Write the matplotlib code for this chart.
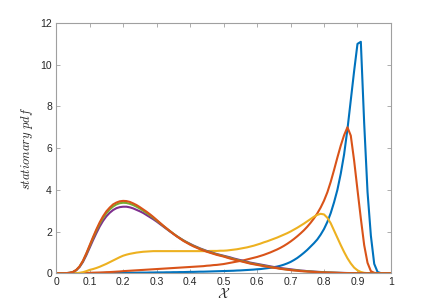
import numpy as np
import matplotlib.pyplot as plt

plt.rcParams['mathtext.fontset'] = 'cm'
plt.rcParams['font.family'] = ['Liberation Sans', 'DejaVu Sans']

# grid of the state variable
x = np.linspace(0, 1, 101)

pdf_blue = [
    0, 0, 0, 0, 0, 0.005, 0.005, 0.01, 0.01, 0.01, 0.01,
    0.01, 0.01, 0.01, 0.015, 0.015, 0.015, 0.02, 0.02, 0.02, 0.02,
    0.02, 0.025, 0.025, 0.025, 0.03, 0.03, 0.03, 0.035, 0.035, 0.04,
    0.04, 0.04, 0.045, 0.045, 0.05, 0.05, 0.055, 0.055, 0.06, 0.065,
    0.065, 0.07, 0.075, 0.075, 0.08, 0.085, 0.09, 0.095, 0.10, 0.105,
    0.11, 0.115, 0.12, 0.13, 0.135, 0.145, 0.155, 0.165, 0.175, 0.19,
    0.20, 0.22, 0.24, 0.26, 0.29, 0.32, 0.36, 0.41, 0.47, 0.54,
    0.63, 0.73, 0.85, 0.98, 1.12, 1.28, 1.44, 1.62, 1.85, 2.12,
    2.46, 2.88, 3.40, 4.00, 4.77, 5.70, 6.90, 8.30, 9.70, 11.0,
    11.1, 7.2, 3.9, 1.8, 0.45, 0.06, 0.005, 0, 0, 0,
]

pdf_orange = [
    0, 0, 0, 0, 0, 0.002, 0.005, 0.008, 0.012, 0.016, 0.02,
    0.025, 0.03, 0.035, 0.04, 0.05, 0.055, 0.065, 0.075, 0.085, 0.10,
    0.11, 0.12, 0.13, 0.14, 0.15, 0.16, 0.17, 0.18, 0.19, 0.20,
    0.21, 0.22, 0.23, 0.24, 0.25, 0.26, 0.27, 0.28, 0.29, 0.30,
    0.31, 0.32, 0.33, 0.34, 0.36, 0.37, 0.39, 0.40, 0.42, 0.44,
    0.47, 0.50, 0.53, 0.56, 0.59, 0.62, 0.66, 0.70, 0.74, 0.78,
    0.83, 0.88, 0.94, 1.00, 1.07, 1.14, 1.22, 1.31, 1.41, 1.52,
    1.64, 1.77, 1.91, 2.06, 2.23, 2.42, 2.63, 2.87, 3.15, 3.48,
    3.88, 4.38, 4.95, 5.55, 6.12, 6.62, 7.00, 6.60, 5.40, 4.00,
    2.63, 1.35, 0.50, 0.10, 0.02, 0.005, 0, 0, 0, 0,
]

pdf_yellow = [
    0, 0, 0, 0, 0, 0, 0.005, 0.02, 0.05, 0.10, 0.16,
    0.20, 0.25, 0.31, 0.38, 0.45, 0.53, 0.61, 0.69, 0.77, 0.84,
    0.89, 0.93, 0.96, 0.99, 1.01, 1.03, 1.04, 1.05, 1.06, 1.06,
    1.06, 1.06, 1.06, 1.06, 1.06, 1.06, 1.06, 1.06, 1.06, 1.06,
    1.06, 1.06, 1.06, 1.06, 1.06, 1.07, 1.07, 1.07, 1.08, 1.08,
    1.09, 1.11, 1.13, 1.15, 1.18, 1.21, 1.24, 1.28, 1.32, 1.37,
    1.42, 1.48, 1.53, 1.59, 1.65, 1.71, 1.78, 1.85, 1.92, 2.00,
    2.09, 2.18, 2.28, 2.38, 2.49, 2.60, 2.71, 2.80, 2.85, 2.82,
    2.66, 2.40, 2.05, 1.70, 1.35, 1.02, 0.72, 0.47, 0.27, 0.14,
    0.06, 0.02, 0.005, 0, 0, 0, 0, 0, 0, 0,
]

pdf_purple = [
    0, 0, 0, 0.005, 0.02, 0.055, 0.14, 0.30, 0.54, 0.86, 1.22,
    1.58, 1.92, 2.24, 2.51, 2.73, 2.90, 3.03, 3.12, 3.17, 3.19,
    3.19, 3.16, 3.11, 3.04, 2.97, 2.89, 2.79, 2.69, 2.59, 2.48,
    2.36, 2.24, 2.12, 2.00, 1.89, 1.78, 1.68, 1.58, 1.49, 1.41,
    1.33, 1.26, 1.19, 1.13, 1.07, 1.02, 0.97, 0.92, 0.88, 0.84,
    0.80, 0.76, 0.71, 0.67, 0.63, 0.59, 0.55, 0.51, 0.48, 0.45,
    0.42, 0.39, 0.36, 0.33, 0.30, 0.28, 0.25, 0.23, 0.21, 0.19,
    0.17, 0.15, 0.13, 0.12, 0.10, 0.09, 0.08, 0.07, 0.06, 0.05,
    0.04, 0.035, 0.03, 0.025, 0.02, 0.015, 0.01, 0.008, 0.006, 0.004,
    0.003, 0.002, 0.001, 0, 0, 0, 0, 0, 0, 0,
]

pdf_green = [
    0, 0, 0, 0.005, 0.02, 0.06, 0.15, 0.32, 0.58, 0.92, 1.30,
    1.68, 2.04, 2.37, 2.65, 2.88, 3.06, 3.20, 3.30, 3.36, 3.38,
    3.37, 3.33, 3.27, 3.19, 3.10, 3.00, 2.89, 2.78, 2.66, 2.53,
    2.40, 2.27, 2.14, 2.02, 1.90, 1.78, 1.67, 1.57, 1.48, 1.39,
    1.31, 1.24, 1.17, 1.11, 1.05, 1.00, 0.95, 0.90, 0.86, 0.82,
    0.77, 0.73, 0.68, 0.64, 0.60, 0.56, 0.52, 0.48, 0.45, 0.42,
    0.39, 0.36, 0.33, 0.30, 0.27, 0.25, 0.22, 0.20, 0.18, 0.16,
    0.15, 0.13, 0.12, 0.10, 0.09, 0.08, 0.07, 0.06, 0.05, 0.04,
    0.035, 0.03, 0.025, 0.02, 0.015, 0.01, 0.008, 0.006, 0.004, 0.003,
    0.002, 0.001, 0, 0, 0, 0, 0, 0, 0, 0,
]

pdf_orange2 = [
    0, 0, 0, 0.005, 0.02, 0.06, 0.16, 0.33, 0.60, 0.95, 1.34,
    1.73, 2.10, 2.44, 2.73, 2.97, 3.15, 3.30, 3.39, 3.45, 3.47,
    3.46, 3.42, 3.35, 3.27, 3.17, 3.06, 2.95, 2.83, 2.70, 2.56,
    2.42, 2.28, 2.15, 2.02, 1.89, 1.77, 1.66, 1.55, 1.46, 1.37,
    1.29, 1.22, 1.15, 1.09, 1.03, 0.98, 0.93, 0.88, 0.84, 0.80,
    0.75, 0.70, 0.66, 0.62, 0.58, 0.54, 0.50, 0.46, 0.43, 0.40,
    0.37, 0.34, 0.31, 0.28, 0.26, 0.24, 0.21, 0.19, 0.17, 0.15,
    0.13, 0.12, 0.10, 0.09, 0.08, 0.07, 0.06, 0.05, 0.04, 0.035,
    0.03, 0.025, 0.02, 0.015, 0.01, 0.008, 0.006, 0.004, 0.003, 0.002,
    0.001, 0, 0, 0, 0, 0, 0, 0, 0, 0,
]

series = [
    (pdf_blue, '#0072BD'),
    (pdf_orange, '#D95319'),
    (pdf_yellow, '#EDB120'),
    (pdf_purple, '#7E2F8E'),
    (pdf_green, '#77AC30'),
    (pdf_orange2, '#D95319'),
]

x_ticks = [0, 0.1, 0.2, 0.3, 0.4, 0.5, 0.6, 0.7, 0.8, 0.9, 1]
x_ticklabels = ['0', '0.1', '0.2', '0.3', '0.4', '0.5', '0.6', '0.7', '0.8', '0.9', '1']
y_ticks = [0, 2, 4, 6, 8, 10, 12]

fig = plt.figure(figsize=(4.32, 3.07), dpi=100)
ax = fig.add_axes([0.13, 0.11, 0.775, 0.815])

for y, c in series:
    ax.plot(x, y, color=c, lw=1.5)

ax.set_xlim(0, 1)
ax.set_ylim(0, 12)
ax.set_xticks(x_ticks)
ax.set_xticklabels(x_ticklabels)
ax.set_yticks(y_ticks)
ax.tick_params(direction='in', length=3, width=0.6, labelsize=7.5,
               colors='#262626', top=True, right=True, pad=3)
for s in ax.spines.values():
    s.set_color('#a0a0a0')
    s.set_linewidth(0.8)
ax.tick_params(axis='both', which='both', color='#a0a0a0')

ax.set_xlabel(r'$\mathcal{X}$', fontsize=10, labelpad=0, color='#262626')
ax.set_ylabel(r'$\mathit{stationary\ pdf}$', fontsize=9, labelpad=4, color='#262626')

fig.savefig('out.png', dpi=100)
